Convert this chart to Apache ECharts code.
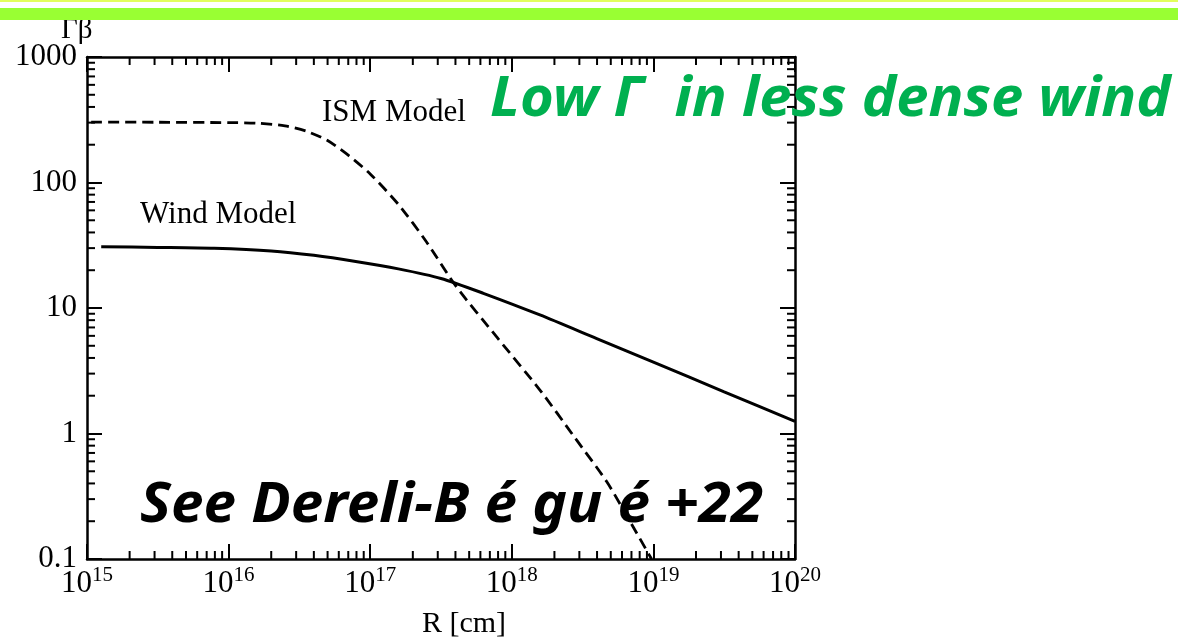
<!DOCTYPE html>
<html>
<head>
<meta charset="utf-8">
<script src="https://cdn.jsdelivr.net/npm/echarts@6/dist/echarts.min.js"></script>
<style>
  html, body { margin: 0; padding: 0; background: #ffffff; }
  #chart { width: 1178px; height: 639px; }
</style>
</head>
<body>
<div id="chart"></div>
<script>
// Wind-model curve: radius R [cm] and Γβ
const windR  = [1.26e15, 3.16e15, 7.9e15, 2e16, 4e16, 7.9e16, 1.58e17, 3.16e17, 6.3e17, 1.58e18, 3.98e18, 1e19, 3.16e19, 1e20];
const windGB = [30.8,    30.4,    29.9,   28.5, 26.3, 23.5,   20.5,    17.2,    13.1,   8.8,     5.7,     3.7,  2.15,    1.25];

// ISM-model curve
const ismR  = [1.07e15, 3.2e15, 1e16, 1.58e16, 2.5e16, 3.55e16, 5e16, 7.1e16, 1e17, 1.58e17, 2.5e17, 4e17, 7.9e17, 1.58e18, 2.8e18, 4.7e18, 7.1e18, 9.7e18];
const ismGB = [303,     302,    300,  297,     283,    256,     216,  163,    117,  67,      33.6,    15.1, 5.8,    2.22,    0.92,   0.41,   0.185,  0.1];

// Axis tick labels
const xExponents  = ['15', '16', '17', '18', '19', '20'];
const yTickLabels = ['0.1', '1', '10', '100', '1000'];

const X_MIN = 1e15, X_MAX = 1e20, Y_MIN = 0.1, Y_MAX = 1000;

// minor tick positions (2..9 within each decade)
const xMinor = [], yMinor = [];
for (let k = 15; k < 20; k++) for (let m = 2; m <= 9; m++) xMinor.push([m * Math.pow(10, k), 1]);
for (let k = -1; k < 3; k++) for (let m = 2; m <= 9; m++) yMinor.push([1e17, +(m * Math.pow(10, k)).toPrecision(3)]);

const SERIF = '"Liberation Serif", "Times New Roman", serif';
const ROUND = '"Noto Sans", "Open Sans", sans-serif';
const TICK_STYLE = { color: '#000', width: 2 };

function minorTicks(horizontal) {
  return function (params, api) {
    const cs = params.coordSys;
    const len = 8;
    if (horizontal) {
      const p = api.coord([api.value(0), Y_MIN]);
      return {
        type: 'group',
        children: [
          { type: 'line', shape: { x1: p[0], y1: cs.y + cs.height, x2: p[0], y2: cs.y + cs.height - len }, style: { stroke: '#000', lineWidth: 2 } },
          { type: 'line', shape: { x1: p[0], y1: cs.y, x2: p[0], y2: cs.y + len }, style: { stroke: '#000', lineWidth: 2 } }
        ]
      };
    }
    const p = api.coord([X_MIN, api.value(1)]);
    return {
      type: 'group',
      children: [
        { type: 'line', shape: { x1: cs.x, y1: p[1], x2: cs.x + len, y2: p[1] }, style: { stroke: '#000', lineWidth: 2 } },
        { type: 'line', shape: { x1: cs.x + cs.width, y1: p[1], x2: cs.x + cs.width - len, y2: p[1] }, style: { stroke: '#000', lineWidth: 2 } }
      ]
    };
  };
}

const chart = echarts.init(document.getElementById('chart'), null, { renderer: 'canvas' });

const axisCommon = {
  type: 'log',
  logBase: 10,
  axisLine: { show: true, lineStyle: { color: '#000', width: 2.5 } },
  axisTick: { show: true, inside: true, length: 15, lineStyle: TICK_STYLE },
  splitLine: { show: false },
  minorTick: { show: false }
};

chart.setOption({
  animation: false,
  backgroundColor: '#ffffff',
  grid: { left: 87, right: 383, top: 57, bottom: 80, containLabel: false, outerBoundsMode: 'none' },
  xAxis: [
    Object.assign({}, axisCommon, {
      position: 'bottom', min: X_MIN, max: X_MAX, interval: 1,
      name: 'R [cm]', nameLocation: 'middle', nameGap: 50, nameMoveOverlap: false,
      nameTextStyle: { fontFamily: SERIF, fontSize: 30, color: '#000', padding: [0, 0, 0, 46] },
      axisLabel: {
        margin: 6,
        formatter: (v, i) => '{b|10}{s|' + xExponents[i] + '}',
        rich: {
          b: { fontFamily: SERIF, fontSize: 31, color: '#000', lineHeight: 34, verticalAlign: 'bottom' },
          s: { fontFamily: SERIF, fontSize: 21, color: '#000', lineHeight: 20, verticalAlign: 'top' }
        }
      }
    }),
    Object.assign({}, axisCommon, {
      position: 'top', min: X_MIN, max: X_MAX, interval: 1,
      axisLabel: { show: false }
    })
  ],
  yAxis: [
    Object.assign({}, axisCommon, {
      position: 'left', min: Y_MIN, max: Y_MAX, interval: 1,
      axisLabel: {
        margin: 10,
        fontFamily: SERIF, fontSize: 31, color: '#000',
        formatter: (v, i) => yTickLabels[i]
      }
    }),
    Object.assign({}, axisCommon, {
      position: 'right', min: Y_MIN, max: Y_MAX, interval: 1,
      axisLabel: { show: false }
    })
  ],
  series: [
    {
      name: 'Wind Model', type: 'line',
      data: windR.map((r, i) => [r, windGB[i]]),
      showSymbol: false, smooth: 0.25,
      lineStyle: { color: '#000', width: 3 }
    },
    {
      name: 'ISM Model', type: 'line',
      data: ismR.map((r, i) => [r, ismGB[i]]),
      showSymbol: false, smooth: 0.25,
      lineStyle: { color: '#000', width: 2.8, type: [11, 6] }
    },
    { type: 'custom', silent: true, clip: false, data: xMinor, renderItem: minorTicks(true) },
    { type: 'custom', silent: true, clip: false, data: yMinor, renderItem: minorTicks(false) }
  ],
  graphic: [
    // y-axis title
    { type: 'text', x: 61, y: 16, z: 5, style: { text: 'Γβ', font: '29px ' + SERIF, fill: '#000', verticalAlign: 'top' } },
    // header bands
    { type: 'rect', shape: { x: 0, y: 0, width: 1178, height: 2 }, style: { fill: '#e2ff5c' }, z: 10 },
    { type: 'rect', shape: { x: 0, y: 8, width: 1178, height: 12 }, style: { fill: '#99ff33' }, z: 10 },
    // curve labels
    { type: 'text', left: 140, top: 199, style: { text: 'Wind Model', font: '31px ' + SERIF, fill: '#000' }, z: 10 },
    { type: 'text', left: 322, top: 97, style: { text: 'ISM Model', font: '31px ' + SERIF, fill: '#000' }, z: 10 },
    // annotations
    {
      type: 'text', x: 490, y: 73, scaleX: 1.26, scaleY: 1.2, z: 10,
      style: { text: 'Low Γ  in less dense wind', font: 'italic bold 46px ' + ROUND, fill: '#00b050' }
    },
    {
      type: 'text', x: 140, y: 479, scaleX: 1.27, scaleY: 1.2, z: 10,
      style: { text: 'See Dereli-B é gu é +22', font: 'italic bold 46px ' + ROUND, fill: '#000' }
    }
  ]
});
</script>
</body>
</html>
